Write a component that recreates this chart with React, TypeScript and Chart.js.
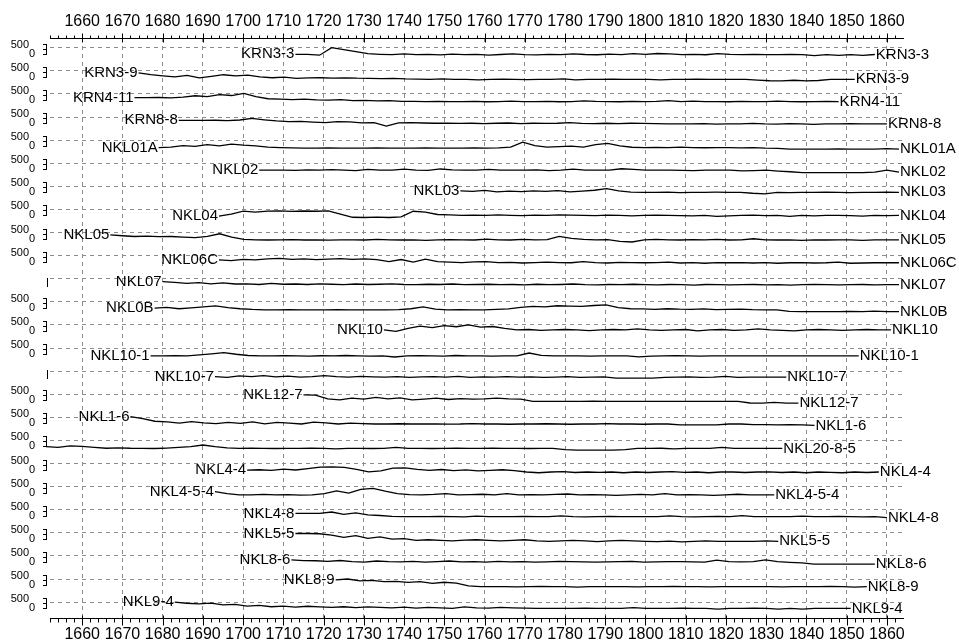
import React, { useEffect, useRef } from 'react';
import { Chart, registerables } from 'chart.js';

Chart.register(...registerables);

// ---------- data ----------
const X_MIN = 1652;
const X_MAX = 1864;
const TICK_LABEL_YEARS = [1660, 1670, 1680, 1690, 1700, 1710, 1720, 1730, 1740, 1750, 1760, 1770, 1780, 1790, 1800, 1810, 1820, 1830, 1840, 1850, 1860];
const SCALE_TOP_LABEL = '500';
const SCALE_ZERO_LABEL = '0';

const SERIES_NAMES = ['KRN3-3', 'KRN3-9', 'KRN4-11', 'KRN8-8', 'NKL01A', 'NKL02', 'NKL03', 'NKL04', 'NKL05', 'NKL06C', 'NKL07', 'NKL0B', 'NKL10', 'NKL10-1', 'NKL10-7', 'NKL12-7', 'NKL1-6', 'NKL20-8-5', 'NKL4-4', 'NKL4-5-4', 'NKL4-8', 'NKL5-5', 'NKL8-6', 'NKL8-9', 'NKL9-4'];
const START_YEARS = [1713, 1674, 1673, 1684, 1679, 1704, 1754, 1694, 1667, 1694, 1680, 1678, 1735, 1677, 1693, 1715, 1672, 1651, 1701, 1693, 1713, 1713, 1712, 1723, 1683];
const END_YEARS = [1857, 1852, 1848, 1860, 1863, 1863, 1863, 1863, 1863, 1863, 1863, 1863, 1861, 1853, 1835, 1838, 1842, 1834, 1858, 1832, 1860, 1833, 1857, 1855, 1851];
const NO_SCALE_SERIES = ['NKL07', 'NKL10-7'];

const KRN3_3 = [215,215,175,500,413,327,240,215,200,230,200,215,190,220,200,210,180,205,230,200,190,215,200,235,205,195,220,200,240,210,250,230,200,215,195,240,210,200,205,200,200,205,200,160,200,165,200,170,205];
const KRN3_9 = [413,330,280,240,300,197,260,330,280,310,240,200,230,175,197,200,185,197,180,175,160,175,150,140,132,150,132,132,110,132,140,132,120,132,132,150,110,132,132,140,132,125,132,110,132,132,140,132,130,132,132,100,70,67,90,67,80,132,132,132];
const KRN4_11 = [340,340,345,330,360,420,380,470,430,520,380,290,270,250,275,240,230,250,210,220,197,205,180,175,167,180,167,167,175,160,167,190,167,167,175,160,167,200,175,167,160,180,167,175,210,167,190,167,170,160,180,167,167,190,167,160,167,175,167];
const KRN8_8 = [357,357,350,360,340,370,440,380,330,300,310,280,260,300,290,250,260,110,250,260,240,230,235,220,230,215,230,240,215,230,220,230,260,225,215,230,210,230,220,215,200,200,200,210,190,200,200,220,200,195,210,200,180,205,200,215,200,200,205];
const NKL01A = [175,200,260,230,300,250,327,280,250,200,175,160,154,154,160,150,154,154,160,154,150,154,160,154,154,150,160,154,165,200,413,260,200,220,240,200,300,357,250,190,175,180,175,200,175,170,175,175,160,175,150,140,110,110,110,110,120,110,110,110,130,110];
const NKL02 = [197,197,200,190,210,197,220,197,180,230,197,200,240,197,190,250,210,200,197,230,197,200,197,210,180,197,240,200,197,197,260,230,197,200,197,190,180,200,197,197,170,180,197,160,130,90,90,90,90,90,90,110,200,110];
const NKL03 = [300,280,320,260,290,270,300,280,310,260,290,330,400,300,250,240,240,250,230,240,240,245,240,240,200,175,240,230,240,240,250,240,230,240,240,250,240];
const NKL04 = [210,300,425,380,425,440,413,430,420,440,300,160,150,170,150,180,420,380,280,260,240,250,240,260,240,230,250,240,260,250,240,230,250,240,220,240,250,240,230,220,240,200,220,240,250,230,240,200,240,220,240,240,230,210,240,230,240];
const NKL05 = [396,360,327,340,320,327,300,280,330,445,300,200,180,175,180,190,175,180,170,185,180,175,200,180,175,180,160,180,190,180,175,210,180,175,200,180,190,330,250,200,180,190,120,90,180,200,180,175,190,180,200,175,180,230,180,175,180,160,180,175,180,180,160,180,180,180];
const NKL06C = [313,280,340,313,360,380,340,360,330,350,370,340,360,330,240,330,220,350,240,220,200,230,240,200,210,180,200,220,200,190,240,200,180,210,200,190,200,220,180,200,170,200,190,200,180,200,170,190,200,180,190,220,170,180,190,200,190];
const NKL07 = [375,340,300,330,280,320,270,280,250,300,260,270,250,280,260,240,270,250,260,280,250,240,260,250,270,240,250,260,240,250,230,260,240,250,270,240,230,250,240,260,240,230,250,240,220,250,240,230,240,250,230,240,220,240,250,240,230,240,250,230,240,240];
const NKL0B = [222,260,200,240,280,327,250,200,170,154,154,160,154,150,154,160,154,154,150,154,160,200,283,180,154,160,150,154,170,190,260,300,283,330,310,300,340,370,250,200,190,175,200,180,175,190,160,175,180,160,154,150,90,75,75,75,75,80,75,100,75,75];
const NKL10 = [283,219,350,450,380,470,420,500,400,430,350,283,300,260,283,300,283,250,283,300,283,330,283,260,283,300,240,283,300,260,283,330,283,260,240,283,300,283,260,283,300,283,283];
const NKL10_1 = [158,160,165,160,200,250,300,230,175,160,158,170,158,150,165,158,175,158,150,160,110,158,165,158,150,175,158,160,150,158,160,283,180,158,160,158,150,158,160,158,120,150,158,170,158,150,158,158,160,158,158,158,158,158,158,158,160,158,158];
const NKL10_7 = [260,230,290,260,300,250,280,240,260,300,260,240,270,250,240,260,230,250,260,240,270,230,250,240,260,240,250,230,240,260,230,240,250,200,200,200,200,230,240,250,230,240,270,230,240,240,240,240];
const NKL12_7 = [470,460,300,253,330,283,360,300,340,253,290,330,270,310,283,300,330,300,283,190,190,190,190,190,200,190,190,190,190,190,190,190,190,190,190,190,190,120,110,150,110,110];
const NKL1_6 = [530,440,330,300,250,313,260,230,280,240,300,220,280,250,210,290,260,210,250,230,210,210,220,210,210,210,205,210,230,210,210,200,210,210,220,210,200,210,210,230,210,210,200,210,210,170,170,170,170,210,210,180,180,170,180,170,150];
const NKL20_8_5 = [230,200,260,240,200,160,180,160,154,150,170,200,230,300,230,180,154,160,154,150,154,154,160,154,130,154,154,150,154,200,154,154,150,154,160,154,154,170,154,154,150,154,154,100,80,80,80,80,100,154,154,160,130,154,154,154,200,154,154,154,154,154];
const NKL4_4 = [210,230,200,260,220,280,340,357,330,250,140,180,300,313,250,200,240,190,220,180,200,230,190,132,100,132,150,110,132,120,132,100,132,110,132,150,120,132,100,132,132,110,132,140,110,132,100,132,120,100,132,110,132];
const NKL4_5_4 = [283,200,140,145,160,140,150,130,145,200,313,220,380,425,300,200,150,140,160,200,140,150,170,140,200,140,150,140,160,180,140,150,140,120,140,160,140,200,140,150,140,120,140,170,140,140,140];
const NKL4_8 = [340,340,345,400,300,360,280,250,210,197,200,197,210,197,190,220,197,200,197,210,197,197,230,197,190,197,210,197,200,197,197,230,197,190,197,210,197,240,197,200,197,197,220,197,197,210,197,190,197,160];
const NKL5_5 = [470,470,460,400,300,380,260,320,230,250,170,200,175,150,180,200,170,150,175,200,150,130,150,170,150,120,150,175,150,130,120,140,110,130,150,130,130,130,130,150,130];
const NKL8_6 = [327,300,290,260,300,250,230,280,250,240,260,230,250,280,240,250,230,260,240,250,230,240,260,250,240,230,240,250,260,230,240,250,250,240,230,320,250,240,250,327,250,220,200,140,140,140,145,140,140];
const NKL8_9 = [460,500,420,440,383,400,350,383,313,360,320,200,167,170,167,160,167,175,167,167,150,167,167,170,167,160,167,167,180,167,167,160,167,167,170,167,167,160,167,167,167,175,167,150,167];
const NKL9_4 = [500,450,420,460,380,400,330,360,300,330,280,320,290,270,300,260,290,270,250,283,240,270,250,230,290,250,240,270,250,240,227,227,230,227,240,227,227,227,260,227,227,227,240,227,227,200,227,227,240,227,200,227,200,227,227,227,227];

const SERIES_VALUES = [KRN3_3, KRN3_9, KRN4_11, KRN8_8, NKL01A, NKL02, NKL03, NKL04, NKL05, NKL06C, NKL07, NKL0B, NKL10, NKL10_1, NKL10_7, NKL12_7, NKL1_6, NKL20_8_5, NKL4_4, NKL4_5_4, NKL4_8, NKL5_5, NKL8_6, NKL8_9, NKL9_4];

// ---------- layout of stacked rows (units on the shared y scale) ----------
const ROW_UNITS = 1000;
const ZERO_OFFSET = 500;
const Y_MAX = 420;
const Y_MIN = -24688;

const GRID_COLOR = '#8c8c8c';
const FONT_FAMILY = "'Liberation Sans', Arial, sans-serif";

const decorPlugin = {
  id: 'decor',
  afterDraw(chart: any) {
    const { ctx, chartArea, scales } = chart;
    const xs = scales.x;
    const ys = scales.y;
    ctx.save();
    ctx.strokeStyle = '#000';
    ctx.lineWidth = 1;
    ctx.setLineDash([]);
    // axis ticks (top and bottom)
    ctx.beginPath();
    const t = chartArea.top + 0.5;
    const b = Math.round(chartArea.bottom) + 0.5;
    for (let yr = X_MIN; yr < X_MAX; yr += 2) {
      const px = Math.round(xs.getPixelForValue(yr)) + 0.5;
      if (yr % 10 === 0) {
        ctx.moveTo(px, t - 5); ctx.lineTo(px, t + 4);
        ctx.moveTo(px, b - 3); ctx.lineTo(px, b + 7);
      } else {
        ctx.moveTo(px, t - 3); ctx.lineTo(px, t);
        ctx.moveTo(px, b); ctx.lineTo(px, b + 4);
      }
    }
    ctx.stroke();

    // per-row little scales
    ctx.font = `11px ${FONT_FAMILY}`;
    ctx.fillStyle = '#000';
    ctx.textBaseline = 'middle';
    SERIES_NAMES.forEach((name, i) => {
      const dy = Math.round(ys.getPixelForValue(-i * ROW_UNITS));
      ctx.beginPath();
      if (NO_SCALE_SERIES.includes(name)) {
        ctx.moveTo(47.5, dy - 1); ctx.lineTo(47.5, dy + 8);
        ctx.stroke();
        return;
      }
      ctx.moveTo(46.5, dy - 4); ctx.lineTo(46.5, dy + 7);
      ctx.moveTo(43, dy - 3.5); ctx.lineTo(46.5, dy - 3.5);
      ctx.moveTo(43, dy + 1.5); ctx.lineTo(46.5, dy + 1.5);
      ctx.moveTo(43, dy + 6.5); ctx.lineTo(46.5, dy + 6.5);
      ctx.stroke();
      ctx.textAlign = 'right';
      ctx.fillText(SCALE_TOP_LABEL, 29, dy - 3);
      ctx.fillText(SCALE_ZERO_LABEL, 35, dy + 5.5);
    });

    // series name labels at both ends
    ctx.font = `15px ${FONT_FAMILY}`;
    ctx.textBaseline = 'middle';
    chart.data.datasets.forEach((ds: any, i: number) => {
      const meta = chart.getDatasetMeta(i);
      const first = meta.data[0];
      const last = meta.data[meta.data.length - 1];
      if (first.x - 1 > chartArea.left) {
        ctx.textAlign = 'right';
        ctx.fillText(ds.label, first.x - 1, first.y);
      }
      ctx.textAlign = 'left';
      ctx.fillText(ds.label, last.x + 1, last.y);
    });
    ctx.restore();
  },
};

const minorYears: number[] = [];
for (let yr = X_MIN; yr < X_MAX; yr += 2) minorYears.push(yr);

const tickCallback = (v: any) => (TICK_LABEL_YEARS.includes(Number(v)) ? String(v) : '');

export default function App() {
  const ref = useRef<HTMLCanvasElement | null>(null);
  useEffect(() => {
    document.body.style.margin = '0';
    const canvas = ref.current;
    if (!canvas) return;
    const datasets = SERIES_NAMES.map((name, i) => {
      const vals = SERIES_VALUES[i];
      const s = START_YEARS[i];
      const e = END_YEARS[i];
      const step = (e - s) / (vals.length - 1);
      return {
        label: name,
        data: vals.map((v, k) => ({ x: s + k * step, y: -i * ROW_UNITS - ZERO_OFFSET + v })),
        borderColor: '#000',
        borderWidth: 1.3,
        pointRadius: 0,
        tension: 0,
        fill: false,
        clip: s < X_MIN ? false : undefined,
      };
    });
    const xCommon = {
      type: 'linear' as const,
      min: X_MIN,
      max: X_MAX,
      afterBuildTicks: (s: any) => { s.ticks = minorYears.map((v) => ({ value: v })); },
      ticks: {
        autoSkip: false,
        maxRotation: 0,
        minRotation: 0,
        padding: 7,
        color: '#000',
        font: { family: FONT_FAMILY, size: 16 },
        callback: tickCallback,
      },
    };
    const chart = new Chart(canvas, {
      type: 'line',
      data: { datasets: datasets as any },
      options: {
        animation: false,
        responsive: false,
        devicePixelRatio: 1,
        layout: { padding: { left: 0, right: 56, top: 0, bottom: 0 } },
        plugins: { legend: { display: false }, tooltip: { enabled: false } },
        scales: {
          x: {
            ...xCommon,
            position: 'bottom',
            afterFit: (s: any) => { s.height = 26; },
            grid: {
              display: true,
              drawTicks: false,
              lineWidth: 1,
              color: (c: any) => (c.tick && c.tick.value % 10 === 0 ? GRID_COLOR : 'rgba(0,0,0,0)'),
            },
            border: { display: true, color: '#000', width: 1, dash: [4, 4] },
          },
          xTop: {
            ...xCommon,
            position: 'top',
            afterFit: (s: any) => { s.height = 38; },
            grid: { display: false, drawTicks: false },
            border: { display: true, color: '#000', width: 1 },
          },
          y: {
            type: 'linear',
            min: Y_MIN,
            max: Y_MAX,
            afterBuildTicks: (s: any) => { s.ticks = SERIES_NAMES.map((_, i) => ({ value: -i * ROW_UNITS })); },
            afterFit: (s: any) => { s.width = 50; },
            ticks: { display: false },
            grid: { display: true, drawTicks: false, color: GRID_COLOR, lineWidth: 1 },
            border: { display: false, dash: [4, 4] },
          },
        } as any,
      },
      plugins: [decorPlugin],
    });
    return () => chart.destroy();
  }, []);
  return (
    <div style={{ width: 959, height: 644, background: '#fff' }}>
      <canvas ref={ref} width={959} height={644} style={{ display: 'block' }} />
    </div>
  );
}
